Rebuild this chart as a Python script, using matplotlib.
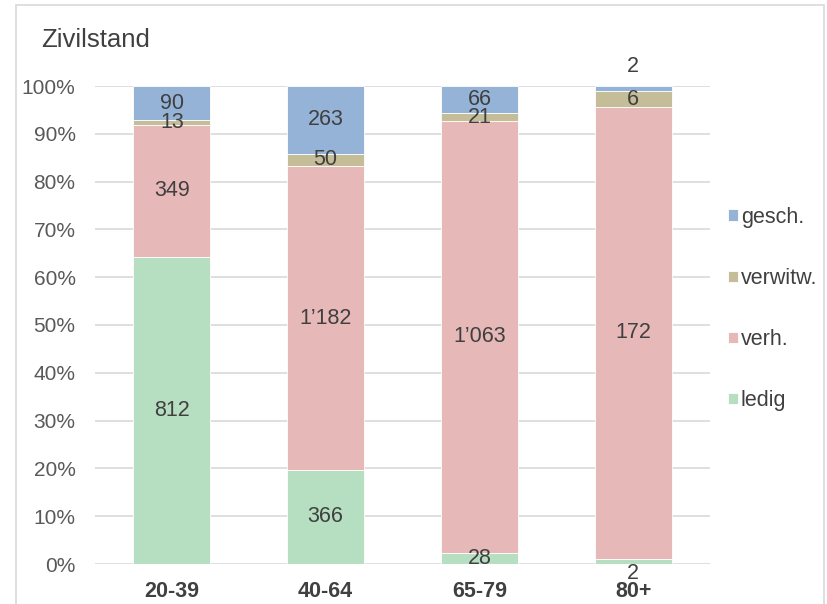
import numpy as np
import matplotlib.pyplot as plt
from matplotlib.patches import Rectangle

plt.rcParams['font.family'] = ['Liberation Sans', 'DejaVu Sans']

# Zivilstand nach Altersgruppe (Anzahl Personen)
groups = ['20-39', '40-64', '65-79', '80+']
ledig = [812, 366, 28, 2]
verh = [349, 1182, 1063, 172]
verwitw = [13, 50, 21, 6]
gesch = [90, 263, 66, 2]

series = [('ledig', ledig, '#B6DEC0'),
          ('verh.', verh, '#E6B8B7'),
          ('verwitw.', verwitw, '#C4BD97'),
          ('gesch.', gesch, '#95B3D7')]

counts = np.array([s[1] for s in series], dtype=float)
totals = counts.sum(axis=0)
shares = counts / totals

# small segments whose labels sit outside the bar
label_shift = {(0, 3): -0.019, (3, 3): 0.04}

fig = plt.figure(figsize=(8.27, 6.04), dpi=100)
fig.patches.append(Rectangle((16 / 827, -0.01), (824 - 16) / 827, 1 - 5 / 604 + 0.01,
                             transform=fig.transFigure, fill=False,
                             edgecolor='#D9D9D9', linewidth=1.2))

ax = fig.add_axes([95 / 827, 1 - 564 / 604, (710 - 95) / 827, (564 - 86) / 604])
x = np.arange(len(groups))
bottom = np.zeros(len(groups))
handles = []
for i, (name, vals, color) in enumerate(series):
    h = ax.bar(x, shares[i], 0.5, bottom=bottom, color=color,
               edgecolor='white', linewidth=0.6, label=name, zorder=2)
    handles.append(h)
    for j in range(len(groups)):
        yc = bottom[j] + shares[i][j] / 2
        if (i, j) in label_shift:
            yc = (bottom[j] if label_shift[(i, j)] < 0 else bottom[j] + shares[i][j]) + label_shift[(i, j)]
        txt = f'{int(vals[j]):,}'.replace(',', '\u2019')
        ax.text(x[j], yc, txt, ha='center', va='center', fontsize=15.5,
                color='#404040', zorder=3)
    bottom += shares[i]

ax.set_xlim(-0.5, 3.5)
ax.set_ylim(0, 1)
ax.set_yticks(np.arange(0, 1.01, 0.1))
ax.set_yticklabels([f'{p}%' for p in range(0, 101, 10)])
ax.set_xticks(x)
ax.set_xticklabels(groups, fontweight='bold')
ax.tick_params(axis='y', length=0, pad=14, labelsize=15, labelcolor='#595959')
ax.tick_params(axis='x', length=0, pad=12, labelsize=15.5, labelcolor='#404040')
ax.yaxis.grid(True, color='#D9D9D9', linewidth=1.2, zorder=0)
ax.set_axisbelow(True)
for s in ax.spines.values():
    s.set_visible(False)

fig.text(41 / 827, 1 - 40 / 604, 'Zivilstand', fontsize=18.5, color='#404040',
         ha='left', va='center')

fig.legend(handles[::-1], [s[0] for s in series][::-1], loc='center left',
           bbox_to_anchor=(728 / 827, 1 - 309 / 604), frameon=False,
           fontsize=15.5, labelcolor='#404040', handlelength=0.45,
           handleheight=0.45, handletextpad=0.15, labelspacing=1.86,
           borderpad=0, borderaxespad=0)

fig.savefig('out.png', dpi=100)
